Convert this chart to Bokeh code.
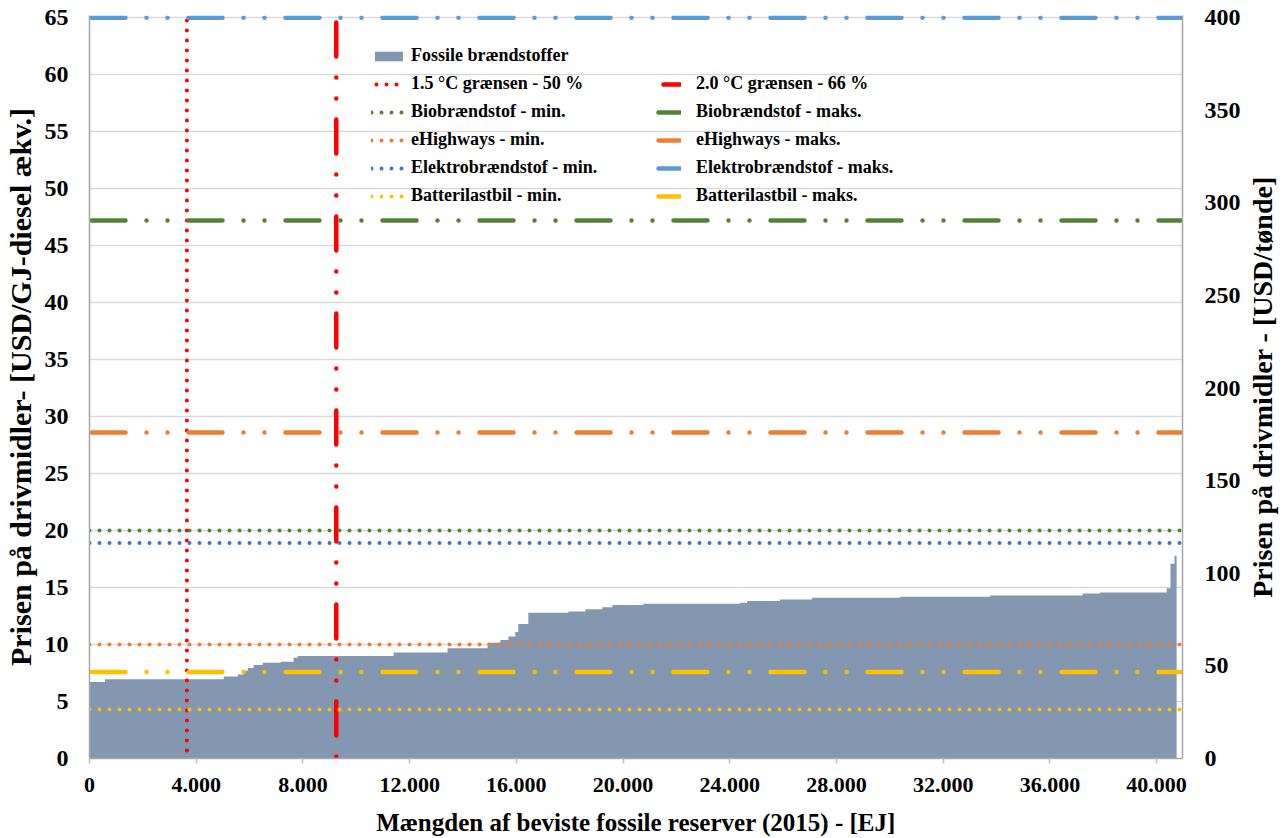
import numpy as np
from bokeh.plotting import figure
from bokeh.layouts import row
from bokeh.models import (Range1d, LinearAxis, FixedTicker, SingleIntervalTicker,
                          Legend, LegendItem)
from bokeh.embed import file_html
from bokeh.resources import INLINE

# ---------------- data ----------------
# cumulative proven fossil reserves (EJ) at which the price step changes
reserve_edges = [0, 580, 5030, 5560, 5780, 5930, 6150, 6490, 7170, 7650, 7800,
                 11400, 13420, 14920, 15400, 15700, 15960, 16070, 16450, 17950, 18590,
                 19220, 19600, 20760, 24390, 24650, 25880, 27080, 30380, 33750, 37230,
                 37870, 40380, 40520, 40670, 40750]
# price of each reserve block (USD/GJ diesel eq.)
fossil_price = [6.72, 6.96, 7.19, 7.37, 7.7, 7.95, 8.2, 8.4, 8.5, 8.85,
                9.0, 9.3, 9.68, 10.15, 10.4, 10.7, 11.1, 11.8, 12.78, 12.9,
                13.1, 13.27, 13.48, 13.57, 13.66, 13.83, 13.95, 14.1, 14.2, 14.3,
                14.47, 14.56, 14.94, 17.1, 17.8]

limit_names = ["1.5 °C grænsen - 50 %", "2.0 °C grænsen - 66 %"]
limit_reserves = [3650, 9250]

fuel_names = ["Biobrændstof", "eHighways", "Elektrobrændstof", "Batterilastbil"]
fuel_min = [20.0, 10.0, 18.9, 4.3]
fuel_max = [47.2, 28.6, 65.0, 7.6]
fuel_min_colors = ["#548235", "#ED7D31", "#4472C4", "#FFC000"]
fuel_max_colors = ["#548235", "#ED7D31", "#5B9BD5", "#FFC000"]

x_ticks = [0, 4000, 8000, 12000, 16000, 20000, 24000, 28000, 32000, 36000, 40000]
x_tick_labels = ["0", "4.000", "8.000", "12.000", "16.000", "20.000", "24.000",
                 "28.000", "32.000", "36.000", "40.000"]
right_ticks = [0, 50, 100, 150, 200, 250, 300, 350, 400]

x_title = "Mængden af beviste fossile reserver (2015) - [EJ]"
y_title = "Prisen på drivmidler- [USD/GJ-diesel ækv.]"
y2_title = "Prisen på drivmidler - [USD/tønde]"

X_MIN, X_MAX = 0, 40970
Y_MIN, Y_MAX = 0, 65.2
GJ_PER_BBL = 400 / 65

FONT = "Liberation Serif"
AX_COL = "#A6A6A6"
BORDER_TOP, BORDER_BOTTOM = 15, 80


def title_panel(text, width, size, border_left, standoff):
    """Narrow figure whose only content is a left-axis title (reads bottom-to-top)."""
    f = figure(width=width, height=838, x_range=Range1d(0, 1), y_range=Range1d(0, 1),
               output_backend="svg", toolbar_location=None, x_axis_location=None,
               min_border_left=border_left, min_border_right=0,
               min_border_top=BORDER_TOP, min_border_bottom=BORDER_BOTTOM,
               outline_line_color=None, background_fill_color="white",
               border_fill_color="white")
    f.grid.visible = False
    ax = f.yaxis[0]
    ax.ticker = FixedTicker(ticks=[])
    ax.axis_line_color = None
    ax.major_tick_line_color = None
    ax.minor_tick_line_color = None
    ax.major_tick_out = 0
    ax.major_tick_in = 0
    ax.axis_label = text
    ax.axis_label_text_font = FONT
    ax.axis_label_text_font_style = "bold"
    ax.axis_label_text_font_size = size
    ax.axis_label_text_color = "black"
    ax.axis_label_standoff = standoff
    return f


# ---------------- main figure ----------------
p = figure(width=1203, height=838, x_range=Range1d(X_MIN, X_MAX),
           y_range=Range1d(Y_MIN, Y_MAX), output_backend="svg",
           toolbar_location=None, min_border_left=49, min_border_right=60,
           min_border_top=BORDER_TOP, min_border_bottom=BORDER_BOTTOM,
           outline_line_color=None,
           background_fill_color="white", border_fill_color="white")

# step polygon for fossil reserves
edges = np.array(reserve_edges, dtype=float)
vals = np.array(fossil_price, dtype=float)
xs = np.repeat(edges, 2)[1:-1]
ys = np.repeat(vals, 2)
fossil = p.varea(x=xs, y1=np.zeros_like(ys), y2=ys, fill_color="#8497B0")

# temperature limits
r15 = p.line(x=[limit_reserves[0]] * 2, y=[Y_MAX, Y_MIN], line_color="#FF0000",
             line_width=4, line_dash="0 10", line_cap="round", line_dash_offset=5)
r20 = p.line(x=[limit_reserves[1]] * 2, y=[Y_MAX, Y_MIN], line_color="#FF0000",
             line_width=4.5, line_dash="34 21 0 21 0 21", line_cap="round",
             line_dash_offset=90)

min_r, max_r = [], []
for i in range(len(fuel_names)):
    min_r.append(p.line(x=[X_MIN, X_MAX], y=[fuel_min[i]] * 2, line_color=fuel_min_colors[i],
                        line_width=4, line_dash="0 10", line_cap="round"))
    max_r.append(p.line(x=[X_MIN, X_MAX], y=[fuel_max[i]] * 2, line_color=fuel_max_colors[i],
                        line_width=4.5, line_dash="34 21 0 21 0 21", line_cap="round",
                        line_dash_offset=-2))

# ---------------- axes ----------------
for ax in (p.xaxis[0], p.yaxis[0]):
    ax.axis_line_color = AX_COL
    ax.axis_line_width = 1.5
    ax.major_label_text_font = FONT
    ax.major_label_text_font_style = "bold"
    ax.major_label_text_color = "black"
    ax.axis_label_text_font = FONT
    ax.axis_label_text_font_style = "bold"
    ax.axis_label_text_color = "black"
    ax.minor_tick_line_color = None

xa = p.xaxis[0]
xa.ticker = FixedTicker(ticks=x_ticks)
xa.major_label_overrides = {t: l for t, l in zip(x_ticks, x_tick_labels)}
xa.major_tick_line_color = "#BFBFBF"
xa.major_tick_line_width = 1.5
xa.major_tick_out = 5
xa.major_tick_in = 0
xa.major_label_standoff = 14
xa.major_label_text_font_size = "22px"
xa.axis_label = x_title
xa.axis_label_text_font_size = "25px"
xa.axis_label_standoff = 14

ya = p.yaxis[0]
ya.ticker = SingleIntervalTicker(interval=5, num_minor_ticks=0)
ya.major_tick_line_color = None
ya.major_tick_out = 0
ya.major_tick_in = 0
ya.major_label_standoff = 21
ya.major_label_text_font_size = "24px"

p.extra_y_ranges = {"bbl": Range1d(Y_MIN * GJ_PER_BBL, Y_MAX * GJ_PER_BBL)}
ra = LinearAxis(y_range_name="bbl", ticker=FixedTicker(ticks=right_ticks))
ra.axis_line_color = AX_COL
ra.axis_line_width = 1.5
ra.major_tick_line_color = None
ra.major_tick_out = 0
ra.major_tick_in = 0
ra.minor_tick_line_color = None
ra.major_label_standoff = 22
ra.major_label_text_font = FONT
ra.major_label_text_font_style = "bold"
ra.major_label_text_font_size = "24px"
ra.major_label_text_color = "black"
p.add_layout(ra, "right")

p.xgrid.visible = False
p.ygrid.grid_line_color = "#D9D9D9"
p.ygrid.grid_line_width = 1.5

# ---------------- legends ----------------
items1 = [LegendItem(label="Fossile brændstoffer", renderers=[fossil]),
          LegendItem(label=limit_names[0], renderers=[r15])]
items2 = [LegendItem(label=limit_names[1], renderers=[r20])]
for i, n in enumerate(fuel_names):
    items1.append(LegendItem(label=n + " - min.", renderers=[min_r[i]]))
    items2.append(LegendItem(label=n + " - maks.", renderers=[max_r[i]]))

common = dict(border_line_color=None, background_fill_alpha=0, padding=0, margin=0,
              label_text_font=FONT, label_text_font_style="bold",
              label_text_font_size="18px", label_text_color="black",
              label_height=20, spacing=7)
leg1 = Legend(items=items1, location=(282, 552), glyph_width=35, glyph_height=12,
              label_standoff=5, **common)
leg2 = Legend(items=items2, location=(567, 552), glyph_width=25, glyph_height=12,
              label_standoff=15, **common)
p.add_layout(leg1)
p.add_layout(leg2)

# ---------------- side titles ----------------
left_title = title_panel(y_title, 40, "30px", 37, 1)
right_title = title_panel(y2_title, 43, "28px", 33, 1)

layout = row(left_title, p, right_title)
open("out.html", "w").write(file_html(layout, INLINE))
